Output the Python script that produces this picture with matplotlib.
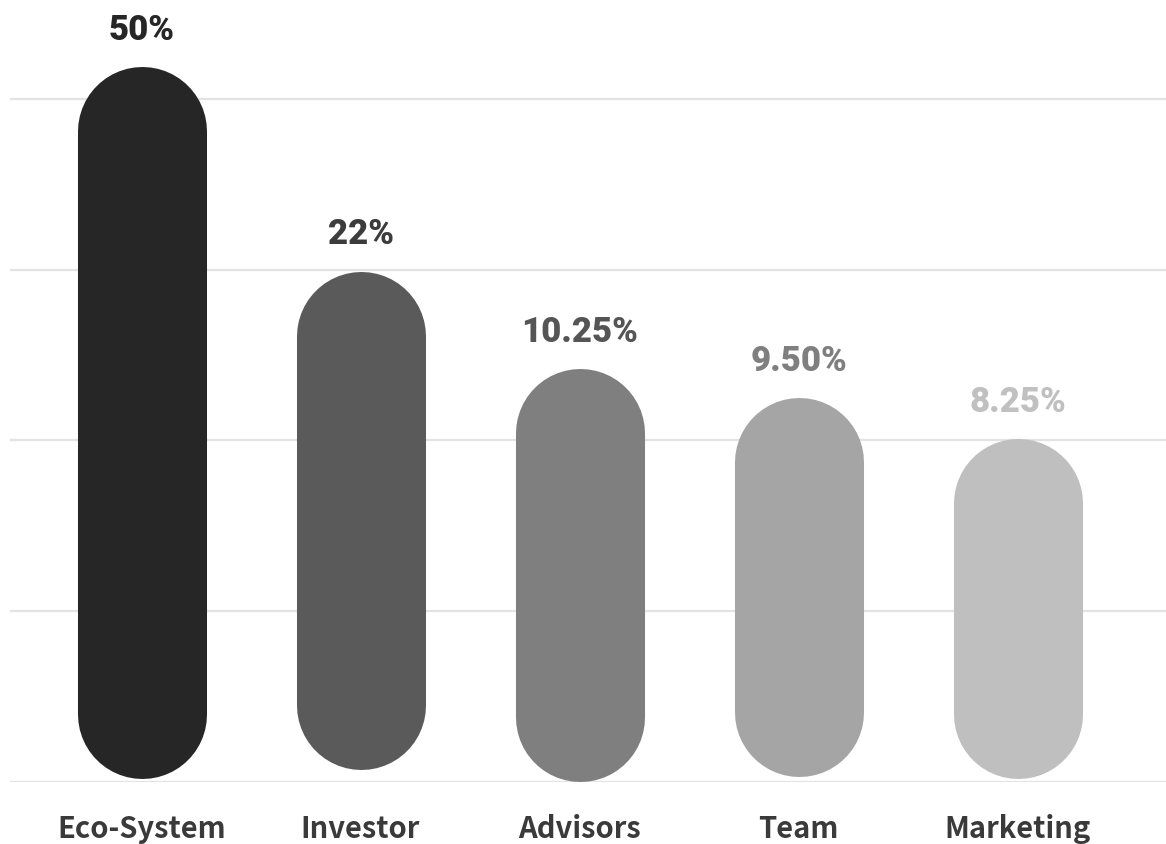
import numpy as np
import matplotlib
matplotlib.use("Agg")
import matplotlib.pyplot as plt

# .. data (heights in gridline units)
categories = ["Eco-System", "Investor", "Advisors", "Team", "Marketing"]
labels = ["50%", "22%", "10.25%", "9.50%", "8.25%"]
bar_top = [4.19, 2.99, 2.42, 2.25, 2.01]
bar_bottom = [0.02, 0.07, 0.0, 0.03, 0.02]
bar_colors = ["#262626", "#5a5a5a", "#7f7f7f", "#a5a5a5", "#bfbfbf"]
label_colors = ["#262626", "#3c3c3c", "#555555", "#7f7f7f", "#c0c0c0"]

fig = plt.figure(figsize=(11.66, 8.45), dpi=100)
ax = fig.add_axes([10 / 1166, 62.2 / 845, 1156 / 1166, 782.8 / 845])
ax.set_xlim(-0.6005, 4.678)
ax.set_ylim(0, 4.586)

for s in ax.spines.values():
    s.set_visible(False)
ax.set_yticks([0, 1, 2, 3, 4])
ax.yaxis.grid(True, color="#e3e3e3", lw=1.6)
ax.set_axisbelow(True)
ax.tick_params(left=False, bottom=False, labelleft=False, labelbottom=False)

# .. pill shaped bars: thick lines with round caps
lw = 92.9  # points, ~129 px
r_px = lw * fig.dpi / 72 / 2
inv = ax.transData.inverted()
r_y = inv.transform((0, r_px))[1] - inv.transform((0, 0))[1]

x = np.arange(len(categories))
for i in x:
    ax.plot([i, i], [bar_bottom[i] + r_y, bar_top[i] - r_y], color=bar_colors[i],
            lw=lw, solid_capstyle="round", zorder=3)
    ax.annotate(labels[i], (i, bar_top[i]), xytext=(0, 27), textcoords="offset points",
                ha="center", va="center", fontsize=25, fontweight="black",
                family=["Roboto"], color=label_colors[i])
    ax.annotate(categories[i], (i, 0), xytext=(0, -33), textcoords="offset points",
                ha="center", va="center", fontsize=21, fontweight="bold",
                family=["Noto Sans CJK KR", "DejaVu Sans"], color="#3a3a3a",
                annotation_clip=False)

fig.savefig("out.png", dpi=100)
